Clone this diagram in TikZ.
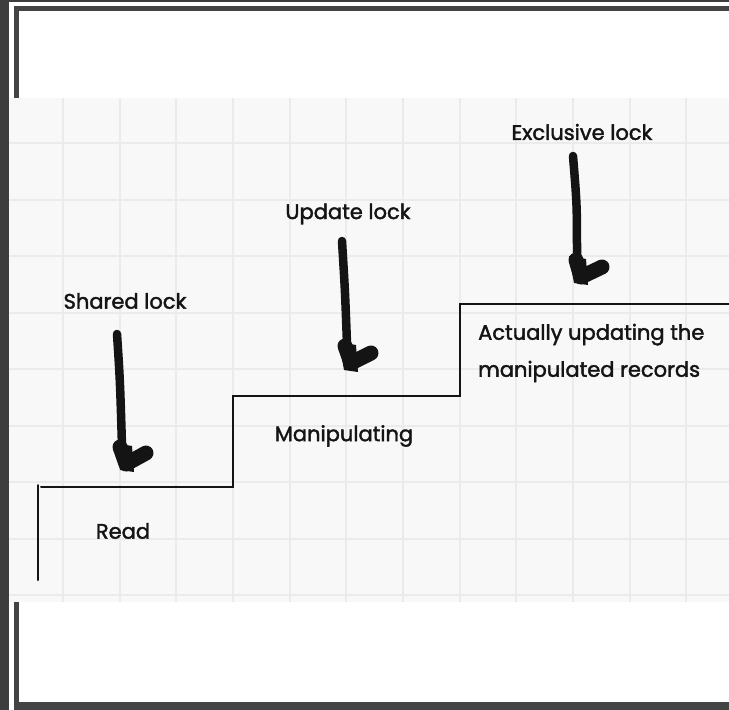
\documentclass[tikz,border=0pt]{standalone}
\usepackage{fontspec}
\setmainfont{Poppins}[FakeBold=1.8]
\definecolor{outerdark}{HTML}{3D3D3D}
\definecolor{framedark}{HTML}{444444}
\definecolor{paper}{HTML}{F8F8F8}
\definecolor{gridc}{HTML}{EBEBEB}
\definecolor{ink}{HTML}{141414}
\tikzset{
  lbl/.style={font=\fontsize{21}{25}\selectfont, text=ink, inner sep=0pt},
  stair/.style={draw=ink, line width=2pt, line cap=round, line join=miter},
  shaft/.style={draw=ink, line width=8.5pt, line cap=round},
  foot/.style={draw=ink, line width=15pt, line cap=round, line join=round},
  gridline/.style={draw=gridc, line width=1.1pt}
}
\begin{document}
\begin{tikzpicture}[x=1pt,y=-1pt]
\useasboundingbox (0,0) rectangle (729,710);
% outer frame
\fill[outerdark] (0,0) rectangle (729,710);
\fill[white] (9,2) rectangle (729,710);
\fill[framedark] (14,6) rectangle (729,710);
\fill[white] (19,11) rectangle (729,702);
% grid paper
\fill[paper] (9,98) rectangle (729,602);
\begin{scope}
\clip (9,98) rectangle (729,602);
\foreach \gx in {63,120,176,233,290,346,403,460,516,573,630,686}
  \draw[gridline] (\gx,98) -- (\gx,602);
\foreach \gy in {143,200,256,313,369,426,482,539,595}
  \draw[gridline] (9,\gy) -- (729,\gy);
\end{scope}
% staircase
\coordinate (s0) at (38,580);
\coordinate (s1) at (38,485);
\coordinate (s2) at (41,487);
\coordinate (s3) at (233,487);
\coordinate (s4) at (233,395);
\coordinate (s5) at (460,397);
\coordinate (s6) at (460,303);
\coordinate (s7) at (729,304);
\draw[stair] (s0) -- (s1);
\draw[stair] (s2) -- (s3) -- (s4) -- (233,396) -- (460,396) -- (s6) -- (460,304) -- (s7);
% labels
\node[lbl] (shared) at (125,301) {Shared lock};
\node[lbl] (read) at (123,531) {Read};
\node[lbl] (update) at (348,214) {Update lock};
\node[lbl] (manip) at (344,436) {Manipulating};
\node[lbl] (excl) at (582,132) {Exclusive lock};
\node[lbl, align=left, anchor=west, font=\fontsize{21}{37}\selectfont] (actual) at (478,353) {Actually updating the\\manipulated records};
% arrows (hand drawn boots)
\coordinate (a1t) at (117,334);
\coordinate (a1b) at (122,446);
\draw[shaft] (a1t) .. controls (120,380) .. (a1b);
\draw[foot] (120,447) -- (126,464) -- (146,453);
\fill[ink] (115,443) -- (132,446) -- (134,472) -- (120,470) -- cycle;
\coordinate (a2t) at (342,241);
\coordinate (a2b) at (347,344);
\draw[shaft] (a2t) .. controls (345,290) .. (a2b);
\draw[foot] (345,346) -- (351,363) -- (371,353);
\fill[ink] (339,342) -- (356,345) -- (358,372) -- (344,370) -- cycle;
\coordinate (a3t) at (573,156);
\coordinate (a3b) at (577,258);
\draw[shaft] (a3t) .. controls (577,205) .. (a3b);
\draw[foot] (576,260) -- (581,277) -- (602,267);
\fill[ink] (569,256) -- (586,259) -- (588,285) -- (574,283) -- cycle;
\end{tikzpicture}
\end{document}
